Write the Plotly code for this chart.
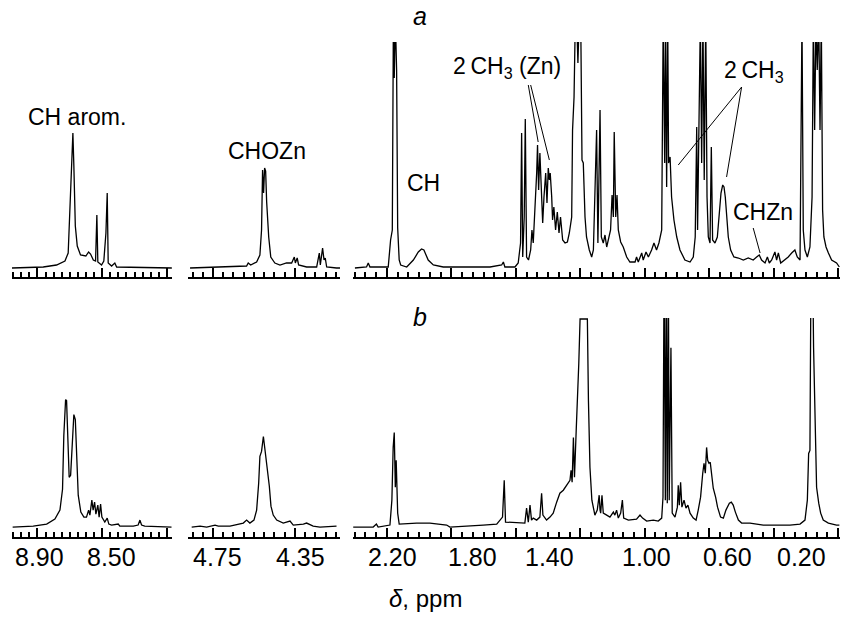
import plotly.graph_objects as go

# ---------------- data (ppm, intensity in arbitrary units) ----------------
# spectrum a
a1_ppm = [9.06, 8.864, 8.782, 8.730, 8.710, 8.699, 8.691, 8.681, 8.675, 8.666, 8.654, 8.634,
          8.601, 8.584, 8.572, 8.555, 8.541, 8.533, 8.527, 8.504, 8.490, 8.477, 8.469, 8.463,
          8.442, 8.422, 8.411, 8.07]
a1_int = [0, 1, 3, 7, 15, 68, 105, 135, 102, 42, 22, 13,
          12, 16, 14, 8, 7, 53, 6, 3, 7, 35, 75, 5,
          2, 5, 1, 0]

a2_ppm = [4.862, 4.716, 4.586, 4.578, 4.566, 4.537, 4.521, 4.513, 4.508, 4.503, 4.498, 4.493,
          4.488, 4.478, 4.468, 4.448, 4.423, 4.391, 4.366, 4.353, 4.348, 4.339, 4.332, 4.293,
          4.244, 4.231, 4.226, 4.215, 4.208, 4.202, 4.195, 4.147, 4.13]
a2_int = [0, 1, 2, 5, 3, 6, 13, 38, 98, 75, 100, 97,
          66, 31, 11, 5, 3, 5, 5, 11, 5, 10, 3, 1,
          1, 15, 3, 20, 8, 10, 1, 0, 0]

a3_ppm = [2.349, 2.295, 2.287, 2.279, 2.194, 2.183, 2.175, 2.170, 2.166, 2.161, 2.155, 2.150,
          2.143, 2.136, 2.108, 2.077, 2.054, 2.039, 2.028, 2.008, 1.984, 1.938, 1.829, 1.720,
          1.666, 1.658, 1.651, 1.604, 1.589, 1.578, 1.573, 1.568, 1.561, 1.556, 1.550, 1.541,
          1.531, 1.525, 1.519, 1.511, 1.503, 1.499, 1.494, 1.488, 1.481, 1.475, 1.469, 1.461,
          1.455, 1.449, 1.444, 1.440, 1.433, 1.429, 1.423, 1.415, 1.407, 1.399, 1.392, 1.382,
          1.371, 1.360, 1.351, 1.340, 1.336, 1.329, 1.323, 1.317, 1.311, 1.305, 1.298, 1.292,
          1.286, 1.278, 1.271, 1.258, 1.247,
          1.239, 1.224, 1.218, 1.208, 1.202, 1.193, 1.185, 1.177, 1.170, 1.159, 1.152, 1.146,
          1.142, 1.135, 1.129, 1.123, 1.112, 1.100, 1.084, 1.069, 1.045, 1.038, 1.030, 1.014,
          1.007, 0.994, 0.983, 0.968, 0.957, 0.945, 0.934, 0.921, 0.914, 0.907, 0.903, 0.898,
          0.893, 0.889, 0.882, 0.875, 0.864, 0.851, 0.836, 0.813, 0.789, 0.774, 0.765, 0.758,
          0.754, 0.747, 0.741, 0.735, 0.729, 0.723, 0.716, 0.710, 0.704, 0.696, 0.690, 0.684,
          0.673, 0.662, 0.653, 0.645, 0.637, 0.631, 0.625, 0.619, 0.611, 0.600, 0.585, 0.564,
          0.541, 0.518, 0.495, 0.479, 0.467, 0.456, 0.440, 0.429, 0.420, 0.409, 0.394, 0.386,
          0.378, 0.367, 0.347, 0.332, 0.316, 0.301, 0.290, 0.277, 0.268, 0.262, 0.254, 0.243,
          0.231, 0.221, 0.215, 0.209, 0.203, 0.197, 0.190, 0.184, 0.178, 0.172, 0.166, 0.156,
          0.145, 0.130, 0.107, 0.094]
a3_int = [0, 1, 5, 1, 1, 28, 38, 250, 190, 250, 198, 40,
          8, 3, 1, 8, 16, 19, 18, 8, 3, 1, 1, 1,
          3, 6, 1, 1, 5, 25, 135, 11, 51, 149, 11, 8,
          18, 38, 25, 58, 95, 123, 78, 115, 75, 45, 71, 95,
          65, 100, 88, 95, 71, 48, 61, 38, 56, 35, 51, 28,
          25, 26, 35, 51, 138, 171, 250, 250, 205, 250, 250, 108,
          105, 51, 31, 18, 11,
          18, 138, 25, 158, 31, 25, 33, 21, 28, 38, 73, 51,
          136, 51, 73, 38, 26, 21, 11, 6, 6, 11, 6, 15,
          8, 16, 11, 18, 25, 18, 25, 38, 250, 105, 250, 81,
          250, 105, 111, 71, 48, 31, 18, 8, 6, 11, 31, 141,
          38, 138, 250, 105, 250, 88, 250, 71, 31, 25, 121, 28,
          25, 31, 51, 75, 83, 81, 71, 51, 31, 18, 11, 10,
          8, 10, 8, 11, 13, 8, 5, 11, 5, 8, 16, 8,
          15, 5, 8, 11, 15, 18, 11, 8, 250, 38, 18, 11,
          21, 71, 250, 138, 250, 198, 250, 138, 250, 58, 31, 21,
          15, 8, 5, 1]

# spectrum b
b1_ppm = [9.053, 8.926, 8.843, 8.792, 8.761, 8.745, 8.737, 8.726, 8.720, 8.712, 8.704, 8.695,
          8.685, 8.675, 8.666, 8.658, 8.648, 8.632, 8.613, 8.597, 8.584, 8.576, 8.564, 8.556,
          8.547, 8.539, 8.527, 8.519, 8.510, 8.502, 8.484, 8.469, 8.459, 8.442, 8.401, 8.391,
          8.308, 8.278, 8.267, 8.257, 8.237, 8.072]
b1_int = [0, 1, 3, 8, 17, 38, 92, 128, 127, 85, 50, 52,
          82, 113, 108, 65, 32, 15, 10, 10, 17, 12, 27, 17,
          25, 13, 22, 10, 23, 10, 5, 9, 3, 2, 3, 1,
          1, 2, 7, 2, 1, 0]

b2_ppm = [4.854, 4.813, 4.781, 4.740, 4.724, 4.667, 4.602, 4.586, 4.570, 4.550, 4.537, 4.527,
          4.521, 4.513, 4.504, 4.500, 4.491, 4.482, 4.475, 4.467, 4.456, 4.439, 4.407, 4.374,
          4.358, 4.309, 4.293, 4.261, 4.228, 4.147]
b2_int = [0, 1, 0, 2, 1, 1, 4, 7, 4, 7, 17, 44,
          71, 76, 91, 84, 67, 57, 41, 21, 12, 7, 4, 6,
          2, 3, 4, 1, 0, 1]

b3_ppm = [2.357, 2.264, 2.249, 2.241, 2.186, 2.177, 2.171, 2.166, 2.161, 2.157, 2.150, 2.143,
          2.062, 2.000, 1.922, 1.907, 1.752, 1.689, 1.662, 1.654, 1.648, 1.596, 1.558, 1.550,
          1.542, 1.534, 1.527, 1.519, 1.503, 1.488, 1.480, 1.474, 1.457, 1.441, 1.426, 1.410,
          1.395, 1.379, 1.363, 1.348, 1.343, 1.338, 1.332, 1.327, 1.319, 1.313, 1.307, 1.301,
          1.267, 1.262, 1.255, 1.246, 1.232, 1.221, 1.212, 1.208, 1.205, 1.199, 1.193, 1.177,
          1.162, 1.146, 1.139, 1.131, 1.123, 1.112, 1.104, 1.098, 1.076, 1.038, 1.022, 1.010,
          0.991, 0.960, 0.937, 0.921, 0.915, 0.910, 0.904, 0.900, 0.895, 0.890, 0.886, 0.878,
          0.872, 0.859, 0.848, 0.844, 0.839, 0.833, 0.827, 0.817, 0.808, 0.799, 0.789, 0.774,
          0.761, 0.751, 0.740, 0.730, 0.724, 0.718, 0.712, 0.707, 0.701, 0.695, 0.689, 0.681,
          0.670, 0.661, 0.647, 0.634, 0.622, 0.606, 0.597, 0.588, 0.578, 0.564, 0.549, 0.510,
          0.479, 0.448, 0.324, 0.277, 0.254, 0.243, 0.237, 0.231, 0.226, 0.218, 0.214, 0.207,
          0.200, 0.190, 0.181, 0.169, 0.145, 0.107, 0.094]
b3_int = [0, 0, 3, 0, 2, 27, 80, 95, 40, 67, 14, 3,
          4, 4, 2, 0, 2, 3, 10, 47, 5, 4, 4, 19,
          5, 22, 7, 9, 7, 10, 34, 12, 7, 10, 14, 25,
          34, 37, 42, 47, 57, 45, 90, 50, 97, 127, 164, 209,
          209, 127, 60, 27, 12, 17, 32, 17, 14, 32, 14, 12,
          10, 15, 12, 17, 9, 14, 27, 9, 7, 8, 12, 9,
          6, 7, 6, 9, 30, 260, 27, 260, 24, 260, 27, 180,
          14, 10, 20, 42, 22, 45, 20, 27, 19, 22, 14, 9,
          7, 17, 30, 54, 64, 54, 80, 67, 64, 65, 54, 39,
          30, 20, 10, 9, 17, 24, 25, 22, 15, 7, 4, 4,
          3, 2, 2, 3, 7, 27, 74, 77, 260, 260, 180, 94,
          40, 24, 14, 7, 4, 2, 2]

# axis labels
labels_1 = ["8.90", "8.50"]
labels_2 = ["4.75", "4.35"]
labels_3 = ["2.20", "1.80", "1.40", "1.00", "0.60", "0.20"]

# ---------------- layout ----------------
W, H = 855, 627
FONT = "Liberation Sans, Arial, Helvetica, sans-serif"
col_px = [(12, 172), (188, 340), (353, 840)]
row_px = [(42, 277), (318, 537)]
x_ranges = [[9.057, 8.069], [4.872, 4.130], [2.358, 0.091]]
major = [(8.9, 0.4), (4.75, 0.4), (2.2, 0.3)]
y_ranges = [[-9, 226], [-10, 210]]

spectra = [
    (a1_ppm, a1_int), (a2_ppm, a2_int), (a3_ppm, a3_int),
    (b1_ppm, b1_int), (b2_ppm, b2_int), (b3_ppm, b3_int),
]

fig = go.Figure()
layout = dict(width=W, height=H, margin=dict(l=0, r=0, t=0, b=0),
              paper_bgcolor="white", plot_bgcolor="white", showlegend=False,
              font=dict(family=FONT, color="black"))

for i, (px, py) in enumerate(spectra):
    n = i + 1
    r, c = divmod(i, 3)
    sx = "" if n == 1 else str(n)
    fig.add_trace(go.Scatter(x=px, y=py, mode="lines",
                             line=dict(color="black", width=1.3),
                             xaxis="x" + sx, yaxis="y" + sx, hoverinfo="skip"))
    x0, x1 = col_px[c]
    y0, y1 = row_px[r]
    t0, dt = major[c]
    layout["xaxis" + sx] = dict(
        domain=[x0 / W, x1 / W], range=x_ranges[c], anchor="y" + sx,
        showline=True, linecolor="black", linewidth=2,
        ticks="inside", ticklen=9, tickwidth=1.6, tickcolor="black",
        tickmode="linear", tick0=t0, dtick=dt, showticklabels=False,
        showgrid=False, zeroline=False,
        minor=dict(ticks="inside", ticklen=5, tickwidth=1.6, tickcolor="black",
                   tick0=t0, dtick=0.05, showgrid=False))
    layout["yaxis" + sx] = dict(
        domain=[1 - y1 / H, 1 - y0 / H], range=y_ranges[r], anchor="x" + sx,
        visible=False, showgrid=False, zeroline=False)

fig.update_layout(**layout)

ann = []
# bottom tick labels
label_y = 1 - 557 / H
for ax, labs, shifts in [("x4", labels_1, [2, 9]), ("x5", labels_2, [5, 6]),
                         ("x6", labels_3, [6, 0, -9, 2, -3, -15])]:
    for lab, s in zip(labs, shifts):
        ann.append(dict(x=float(lab), y=label_y, xref=ax, yref="paper", text=lab,
                        showarrow=False, xanchor="center", yanchor="middle", xshift=s,
                        font=dict(size=25, family=FONT, color="black")))

ann.append(dict(x=425 / W, y=1 - 598 / H, xref="paper", yref="paper",
                text="<i>δ</i>, ppm", showarrow=False, xanchor="center", yanchor="middle",
                font=dict(size=24, family=FONT, color="black")))
ann.append(dict(x=420 / W, y=1 - 16 / H, xref="paper", yref="paper", text="<i>a</i>",
                showarrow=False, xanchor="center", yanchor="middle",
                font=dict(size=25, family=FONT, color="black")))
ann.append(dict(x=420 / W, y=1 - 317 / H, xref="paper", yref="paper", text="<i>b</i>",
                showarrow=False, xanchor="center", yanchor="middle",
                font=dict(size=25, family=FONT, color="black")))

chem = [
    ("CH arom.", 8.653, 151, "x", "y"),
    ("CHOZn", 4.487, 117, "x2", "y2"),
    ("CH", 2.028, 85, "x3", "y3"),
    ("2\u2009CH<sub>3</sub> (Zn)", 1.641, 201, "x3", "y3"),
    ("2\u2009CH<sub>3</sub>", 0.491, 197, "x3", "y3"),
    ("CHZn", 0.450, 56, "x3", "y3"),
]
for txt, x, y, xr, yr in chem:
    ann.append(dict(x=x, y=y, xref=xr, yref=yr, text=txt, showarrow=False,
                    xanchor="center", yanchor="middle",
                    font=dict(size=23, family=FONT, color="black")))
fig.update_layout(annotations=ann)

leaders = [
    (1.542, 183, 1.496, 126), (1.531, 183, 1.444, 108),
    (0.549, 181, 0.844, 103), (0.549, 181, 0.619, 91),
    (0.495, 40, 0.463, 15),
]
shapes = []
for xa, ya, xb, yb in leaders:
    shapes.append(dict(type="line", xref="x3", yref="y3", x0=xa, y0=ya, x1=xb, y1=yb,
                       line=dict(color="black", width=1)))
fig.update_layout(shapes=shapes)

fig.write_html("out.html")
